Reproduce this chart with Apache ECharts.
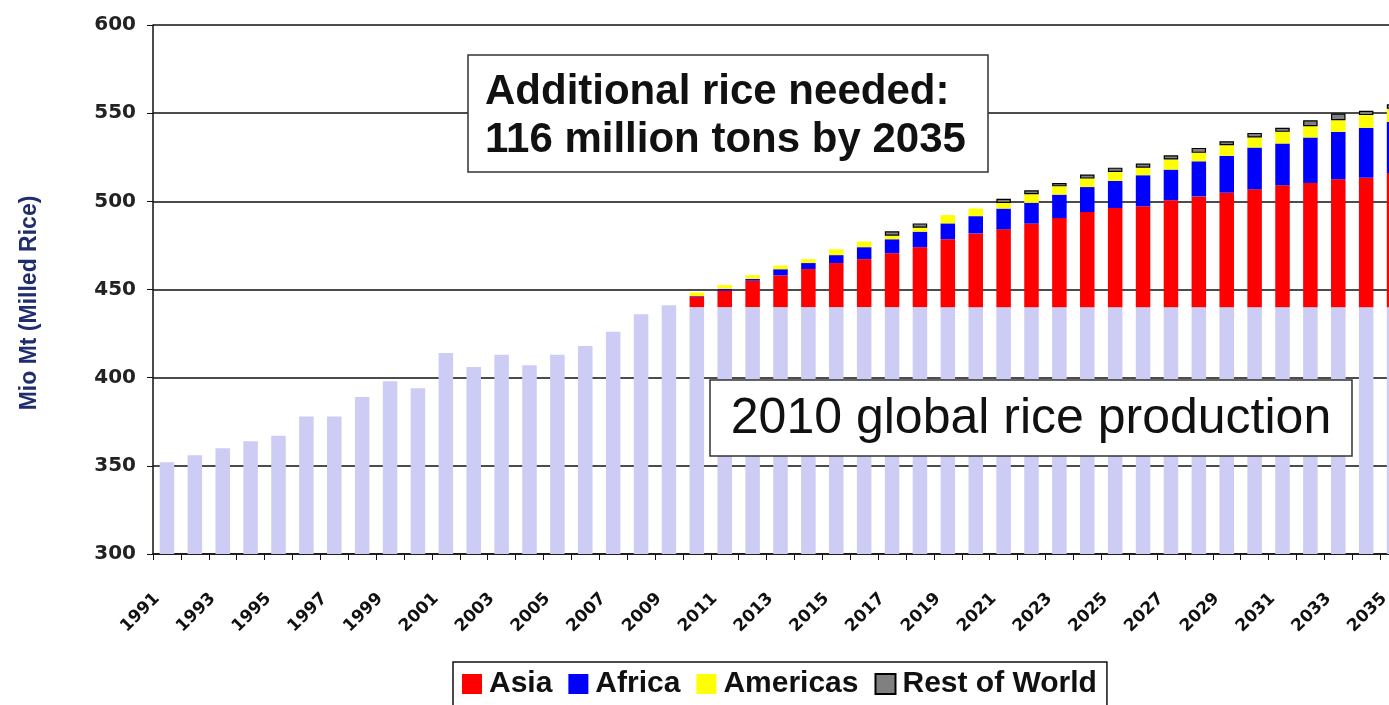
<!DOCTYPE html>
<html>
<head>
<meta charset="utf-8">
<script src="https://cdn.jsdelivr.net/npm/echarts@6/dist/echarts.min.js"></script>
<style>
html,body{margin:0;padding:0;background:#fff}
#main{width:1389px;height:705px}
</style>
</head>
<body>
<div id="main"></div>
<script>
var years = ['1991','1992','1993','1994','1995','1996','1997','1998','1999','2000',
             '2001','2002','2003','2004','2005','2006','2007','2008','2009','2010',
             '2011','2012','2013','2014','2015','2016','2017','2018','2019','2020',
             '2021','2022','2023','2024','2025','2026','2027','2028','2029','2030',
             '2031','2032','2033','2034','2035'];

// global production (base bar), 2010 level kept from 2010 on
var production = [352, 356, 360, 364, 367, 378, 378, 389, 398, 394,
                  414, 406, 413, 407, 413, 418, 426, 436, 441, 440,
                  440, 440, 440, 440, 440, 440, 440, 440, 440, 440,
                  440, 440, 440, 440, 440, 440, 440, 440, 440, 440,
                  440, 440, 440, 440, 440];

// additional need on top of 2010 level, 2010-2035
var asia     = [6, 9.4, 15, 18, 21.6, 25, 27.2, 30.6, 34, 38.5, 41.8, 44.1, 47.4,
                50.5, 53.9, 56.2, 57.2, 60.6, 62.8, 64.9, 66.8, 69.1, 70.4, 72.5, 73.4, 76];
var africa   = [0.3, 0.9, 1, 3.5, 3.4, 4.5, 6.8, 7.9, 8.8, 9, 9.8, 11.8, 11.7,
                13.3, 14.2, 15.4, 17.6, 17.4, 19.9, 20.9, 23.7, 23.7, 25.8, 26.9, 28.3, 29];
var americas = [2, 2.2, 2.1, 2.1, 2.2, 3.3, 3.2, 2, 2.2, 4.7, 4.3, 3.2, 4.9,
                4.7, 4.8, 5.1, 4.3, 5.7, 4.8, 6, 5.7, 6.6, 6.4, 6.6, 7.2, 7.5];
var rest     = [null, null, null, null, null, null, null, 2.5, 2.5, null, null, 2.4, 2.3,
                1.9, 2.3, 2.4, 2.3, 2.4, 2.8, 2.3, 2.6, 2.3, 3.4, 3.8, 2.4, 2.5];

var yTicks = [300, 350, 400, 450, 500, 550, 600];

// leading years with no projection
function pad(arr){
    var out = [];
    for (var i = 0; i < years.length - arr.length; i++) out.push(null);
    return out.concat(arr);
}

var chart = echarts.init(document.getElementById('main'));

var option = {
    animation: false,
    backgroundColor: '#fff',
    grid: {
        left: 153,
        top: 25,
        width: 1255,
        height: 529,
        containLabel: false,
        outerBoundsMode: 'none'
    },
    legend: {
        data: ['Asia', 'Africa', 'Americas', 'Rest of World'],
        left: 453,
        top: 662,
        icon: 'rect',
        itemWidth: 20,
        itemHeight: 20,
        itemGap: 16,
        padding: [7, 10, 7, 9],
        borderColor: '#111',
        borderWidth: 1.5,
        backgroundColor: '#fff',
        textStyle: {
            fontFamily: 'Liberation Sans, Arial',
            fontWeight: 'bold',
            fontSize: 30,
            color: '#111',
            padding: [0, 0, 0, 2]
        }
    },
    xAxis: {
        type: 'category',
        data: years,
        axisLine: { lineStyle: { color: '#111', width: 1.5 } },
        axisTick: { show: true, interval: 0, length: 6, lineStyle: { color: '#111' } },
        axisLabel: {
            interval: 1,
            rotate: 45,
            margin: 32,
            padding: [0, 14, 0, 0],
            fontFamily: 'DejaVu Sans',
            fontWeight: 'bold',
            fontSize: 17,
            color: '#111'
        }
    },
    yAxis: {
        type: 'value',
        min: yTicks[0],
        max: yTicks[yTicks.length - 1],
        interval: 50,
        axisLine: { show: true, lineStyle: { color: '#111', width: 1.5 } },
        axisTick: { show: true, length: 6, lineStyle: { color: '#111' } },
        axisLabel: {
            margin: 17,
            fontFamily: 'DejaVu Sans',
            fontWeight: 'bold',
            fontSize: 20,
            color: '#222'
        },
        splitLine: { lineStyle: { color: '#111', width: 1.5 } }
    },
    series: [
        {
            name: 'Production',
            type: 'bar',
            stack: 'rice',
            barWidth: '52%',
            data: production,
            itemStyle: { color: '#ccccf4' }
        },
        {
            name: 'Asia',
            type: 'bar',
            stack: 'rice',
            data: pad(asia),
            itemStyle: { color: '#ff0000' }
        },
        {
            name: 'Africa',
            type: 'bar',
            stack: 'rice',
            data: pad(africa),
            itemStyle: { color: '#0000ff' }
        },
        {
            name: 'Americas',
            type: 'bar',
            stack: 'rice',
            data: pad(americas),
            itemStyle: { color: '#ffff00' }
        },
        {
            name: 'Rest of World',
            type: 'bar',
            stack: 'rice',
            data: pad(rest),
            itemStyle: { color: '#808080', borderColor: '#000', borderWidth: 1.2 }
        }
    ],
    graphic: [
        {
            type: 'rect',
            z: 100,
            shape: { x: 468, y: 55, width: 520, height: 117 },
            style: { fill: '#fff', stroke: '#333', lineWidth: 1.5 }
        },
        {
            type: 'text',
            z: 101,
            x: 485,
            y: 68,
            style: {
                text: 'Additional rice needed:\n116 million tons by 2035',
                font: 'bold 42px "Liberation Sans", Arial',
                lineHeight: 48,
                fill: '#111',
                verticalAlign: 'top'
            }
        },
        {
            type: 'rect',
            z: 100,
            shape: { x: 710, y: 380, width: 642, height: 76 },
            style: { fill: '#fff', stroke: '#333', lineWidth: 1.5 }
        },
        {
            type: 'text',
            z: 101,
            x: 1031,
            y: 419,
            style: {
                text: '2010 global rice production',
                font: '50px "Liberation Sans", Arial',
                fill: '#111',
                align: 'center',
                verticalAlign: 'middle'
            }
        },
        {
            type: 'text',
            z: 101,
            x: 30,
            y: 303,
            rotation: Math.PI / 2,
            style: {
                text: 'Mio Mt (Milled Rice)',
                font: 'bold 23px "Liberation Sans", Arial',
                fill: '#1f2d6e',
                align: 'center',
                verticalAlign: 'middle'
            }
        }
    ]
};

chart.setOption(option);
</script>
</body>
</html>
